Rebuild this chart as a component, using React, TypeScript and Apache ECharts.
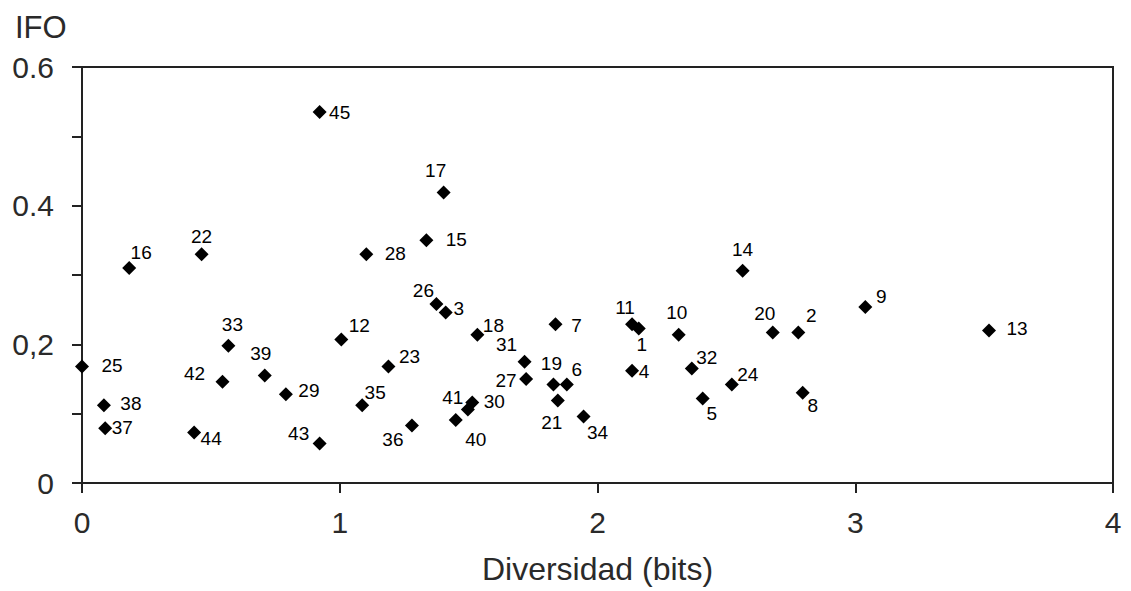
import React, { useEffect, useRef } from "react";
import * as echarts from "echarts";

const pointIds = [
  1, 2, 3, 4, 5, 6, 7, 8, 9, 10, 11, 12, 13, 14, 15, 16, 17, 18, 19, 20, 21, 22, 23,
  24, 25, 26, 27, 28, 29, 30, 31, 32, 33, 34, 35, 36, 37, 38, 39, 40, 41, 42, 43, 44, 45,
];
const diversity = [
  2.16, 2.779, 1.411, 2.134, 2.408, 1.881, 1.837, 2.796, 3.039, 2.315, 2.134, 1.006, 3.519,
  2.563, 1.336, 0.183, 1.403, 1.534, 1.829, 2.68, 1.846, 0.464, 1.189, 2.521, 0.0, 1.375,
  1.723, 1.103, 0.791, 1.514, 1.717, 2.366, 0.568, 1.946, 1.087, 1.28, 0.09, 0.085, 0.709,
  1.45, 1.497, 0.545, 0.922, 0.435, 0.922,
];
const ifo = [
  0.223, 0.217, 0.246, 0.162, 0.122, 0.142, 0.229, 0.13, 0.254, 0.214, 0.229, 0.207, 0.22,
  0.306, 0.35, 0.31, 0.419, 0.214, 0.142, 0.217, 0.119, 0.33, 0.168, 0.142, 0.168, 0.258,
  0.15, 0.33, 0.128, 0.116, 0.175, 0.165, 0.198, 0.096, 0.112, 0.083, 0.079, 0.112, 0.155,
  0.091, 0.106, 0.146, 0.057, 0.073, 0.535,
];
// label placement (pixel offsets from marker centre), a style table, not data
const labelOffsets: [number, number][] = [
  [3, 16], [13, -17], [13, -4], [12, 1], [9, 15], [10, -15], [21, 1], [10, 13], [16, -10],
  [-2, -22], [-7, -17], [18, -14], [28, -2], [0, -21], [30, -1], [12, -16], [-8, -22],
  [16, -9], [-2, -21], [-8, -19], [-6, 22], [0, -18], [21, -10], [16, -10], [30, -1],
  [-13, -14], [-20, 1], [29, -1], [23, -4], [22, -1], [-18, -17], [15, -11], [4, -21],
  [14, 16], [13, -13], [-19, 14], [17, -1], [27, -2], [-4, -22], [20, 20], [-15, -12],
  [-28, -8], [-21, -10], [17, 6], [20, 0],
];
const yTickLabels: Record<string, string> = { "0": "0", "0.2": "0,2", "0.4": "0.4", "0.6": "0.6" };
const xTickLabels = ["0", "1", "2", "3", "4"];

export default function App() {
  const ref = useRef<HTMLDivElement>(null);
  useEffect(() => {
    if (!ref.current) return;
    const chart = echarts.init(ref.current, undefined, { renderer: "svg" });
    const data = pointIds.map((id, i) => ({
      name: String(id),
      value: [diversity[i], ifo[i]],
      label: { offset: labelOffsets[i] },
    }));
    const axisColor = "#222";
    const textColor = "#2a2a2a";
    const tickFont = { fontFamily: "Liberation Sans", fontSize: 30, color: textColor };
    chart.setOption({
      animation: false,
      backgroundColor: "#fff",
      grid: {
        left: 82,
        right: 18,
        top: 67,
        bottom: 108,
        show: true,
        borderColor: axisColor,
        borderWidth: 2,
        backgroundColor: "transparent",
      },
      graphic: [
        {
          type: "text",
          left: 15,
          top: 12,
          style: { text: "IFO", fontFamily: "Liberation Sans", fontSize: 31, fill: textColor },
        },
      ],
      xAxis: {
        type: "value",
        min: 0,
        max: 4,
        interval: 1,
        name: "Diversidad (bits)",
        nameLocation: "middle",
        nameGap: 70,
        nameTextStyle: { fontFamily: "Liberation Sans", fontSize: 32, color: textColor },
        axisLine: { show: true, lineStyle: { color: axisColor, width: 2 } },
        axisTick: { show: true, inside: false, length: 10, lineStyle: { color: axisColor, width: 2 } },
        axisLabel: {
          ...tickFont,
          margin: 24,
          formatter: (v: number) => xTickLabels[Math.round(v)] ?? String(v),
        },
        splitLine: { show: false },
      },
      yAxis: {
        type: "value",
        min: 0,
        max: 0.6,
        interval: 0.1,
        axisLine: { show: true, lineStyle: { color: axisColor, width: 2 } },
        axisTick: { show: true, inside: false, length: 10, lineStyle: { color: axisColor, width: 2 } },
        axisLabel: {
          ...tickFont,
          margin: 28,
          formatter: (v: number) => {
            const k = String(Math.round(v * 10) / 10);
            return yTickLabels[k] ?? "";
          },
        },
        splitLine: { show: false },
      },
      series: [
        {
          type: "scatter",
          symbol: "diamond",
          symbolSize: 14,
          clip: false,
          itemStyle: { color: "#000", opacity: 1 },
          label: {
            show: true,
            position: "inside",
            formatter: "{b}",
            color: "#000",
            fontFamily: "Liberation Sans",
            fontSize: 19,
          },
          data,
        },
      ],
    });
    return () => chart.dispose();
  }, []);
  return (
    <div
      ref={ref}
      style={{ position: "fixed", left: 0, top: 0, width: 1131, height: 591 }}
    />
  );
}
